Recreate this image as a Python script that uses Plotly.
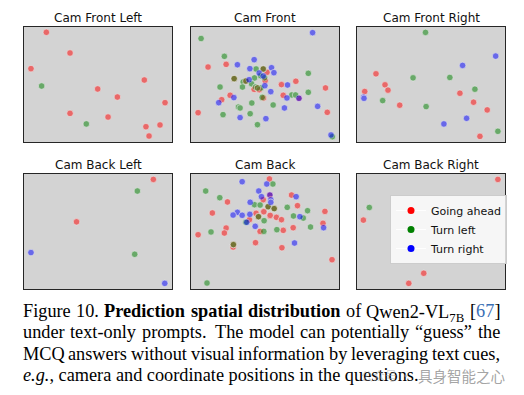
import plotly.graph_objects as go

# the page body adds an 8px margin; the figure is drawn smaller and shifted to compensate
PAGE_W, PAGE_H, OFF = 524, 395, 8
FW, FH = PAGE_W - 2 * OFF, PAGE_H - 2 * OFF


def px2x(p):
    return (p - OFF) / FW


def px2y(p):
    return 1 - (p - OFF) / FH


panel_titles = ["Cam Front Left", "Cam Front", "Cam Front Right",
                "Cam Back Left", "Cam Back", "Cam Back Right"]
series_names = ["Going ahead", "Turn left", "Turn right"]
series_colors = ["red", "green", "blue"]

# ---- data: (x, y) positions in normalised camera coordinates ----
front_left_ahead = [(0.151, 0.954), (0.311, 0.774), (0.047, 0.638), (0.813, 0.539),
                    (0.498, 0.461), (0.631, 0.391), (0.953, 0.342), (0.311, 0.249),
                    (0.568, 0.217), (0.824, 0.133), (0.919, 0.148), (0.845, 0.052)]
front_left_left = [(0.119, 0.487), (0.421, 0.157)]
front_left_right = []

front_ahead = [(0.117, 0.652), (0.239, 0.675), (0.050, 0.255), (0.209, 0.368), (0.266, 0.406),
               (0.428, 0.458), (0.514, 0.606), (0.502, 0.533), (0.491, 0.383), (0.612, 0.499),
               (0.709, 0.528), (0.624, 0.406), (0.909, 0.470), (0.921, 0.258), (0.293, 0.551),
               (0.372, 0.530), (0.489, 0.635), (0.450, 0.470), (0.730, 0.380), (0.462, 0.455)]
front_left = [(0.070, 0.900), (0.227, 0.745), (0.198, 0.478), (0.218, 0.238), (0.322, 0.304),
              (0.333, 0.296), (0.412, 0.339), (0.401, 0.246), (0.450, 0.151), (0.354, 0.522),
              (0.349, 0.478), (0.430, 0.557), (0.410, 0.507), (0.441, 0.635), (0.471, 0.577),
              (0.498, 0.559), (0.437, 0.478), (0.473, 0.470), (0.484, 0.391), (0.793, 0.597),
              (0.793, 0.432), (0.682, 0.409), (0.707, 0.409), (0.556, 0.322), (0.955, 0.046),
              (0.293, 0.551), (0.372, 0.530), (0.489, 0.635), (0.482, 0.388), (0.450, 0.470)]
front_right = [(0.822, 0.951), (0.315, 0.672), (0.428, 0.716), (0.399, 0.638), (0.394, 0.542),
               (0.462, 0.600), (0.489, 0.574), (0.500, 0.490), (0.545, 0.646), (0.561, 0.603),
               (0.653, 0.496), (0.540, 0.438), (0.649, 0.383), (0.730, 0.380), (0.856, 0.310),
               (0.632, 0.296), (0.507, 0.203), (0.333, 0.212), (0.291, 0.386), (0.189, 0.342),
               (0.946, 0.061)]

front_right_ahead = [(0.128, 0.593), (0.189, 0.497), (0.209, 0.451), (0.052, 0.439),
                     (0.288, 0.320), (0.694, 0.424), (0.786, 0.346), (0.878, 0.279),
                     (0.829, 0.049)]
front_right_left = [(0.462, 0.953), (0.378, 0.558), (0.626, 0.561), (0.795, 0.459),
                    (0.173, 0.360), (0.466, 0.308), (0.950, 0.093)]
front_right_right = [(0.935, 0.747), (0.712, 0.666), (0.045, 0.390), (0.047, 0.380),
                     (0.739, 0.206), (0.586, 0.157)]

back_left_ahead = [(0.874, 0.953), (0.355, 0.584)]
back_left_left = [(0.766, 0.852), (0.748, 0.302)]
back_left_right = [(0.047, 0.317), (0.951, 0.049)]

back_ahead = [(0.248, 0.757), (0.489, 0.777), (0.146, 0.661), (0.441, 0.658), (0.491, 0.675),
              (0.493, 0.672), (0.396, 0.603), (0.239, 0.530), (0.227, 0.487), (0.050, 0.472),
              (0.468, 0.501), (0.286, 0.365), (0.437, 0.403), (0.531, 0.957), (0.680, 0.817),
              (0.720, 0.725), (0.905, 0.675), (0.534, 0.635), (0.536, 0.640), (0.578, 0.623),
              (0.612, 0.603), (0.892, 0.571), (0.691, 0.533), (0.624, 0.510), (0.615, 0.359),
              (0.953, 0.255), (0.457, 0.629), (0.288, 0.386), (0.522, 0.716), (0.563, 0.699),
              (0.534, 0.817)]
back_left = [(0.101, 0.852), (0.196, 0.794), (0.430, 0.733), (0.468, 0.730), (0.372, 0.580),
             (0.495, 0.594), (0.137, 0.496), (0.493, 0.501), (0.110, 0.052), (0.554, 0.913),
             (0.651, 0.710), (0.788, 0.681), (0.693, 0.635), (0.759, 0.617), (0.808, 0.539),
             (0.581, 0.516), (0.457, 0.629), (0.288, 0.386), (0.522, 0.716), (0.563, 0.699)]
back_right = [(0.347, 0.933), (0.459, 0.852), (0.477, 0.803), (0.401, 0.754), (0.315, 0.667),
              (0.286, 0.643), (0.347, 0.641), (0.399, 0.649), (0.378, 0.580), (0.435, 0.545),
              (0.513, 0.913), (0.534, 0.817), (0.540, 0.777), (0.540, 0.754), (0.711, 0.803),
              (0.736, 0.629), (0.896, 0.533), (0.700, 0.400)]

back_right_ahead = [(0.950, 0.953), (0.043, 0.599), (0.450, 0.137), (0.349, 0.049)]
back_right_left = [(0.083, 0.709)]
back_right_right = []

panel_data = [
    (front_left_ahead, front_left_left, front_left_right),
    (front_ahead, front_left, front_right),
    (front_right_ahead, front_right_left, front_right_right),
    (back_left_ahead, back_left_left, back_left_right),
    (back_ahead, back_left, back_right),
    (back_right_ahead, back_right_left, back_right_right),
]

# caption words: (text, style)
caption_line1 = [("Figure", "r"), ("10.", "r"), ("Prediction", "b"), ("spatial", "b"),
                 ("distribution", "b"), ("of", "r"), ("Qwen2-VL|7B", "sub"), ("[67]", "ref")]
caption_line2 = [("under", "r"), ("text-only", "r"), ("prompts.", "r"), ("The", "r"),
                 ("model", "r"), ("can", "r"), ("potentially", "r"), ("“guess”", "r"), ("the", "r")]
caption_line3 = [("MCQ", "r"), ("answers", "r"), ("without", "r"), ("visual", "r"),
                 ("information", "r"), ("by", "r"), ("leveraging", "r"), ("text", "r"), ("cues,", "r")]
caption_line4 = "<i>e.g.</i>, camera and coordinate positions in the questions."
watermark_a = "公众号 ·"
watermark_b = "具身智能之心"

# Times / Liberation Serif advance widths (per 1000 em)
ROMAN = dict(zip("abcdefghijklmnopqrstuvwxyz",
                 [444, 500, 444, 500, 444, 333, 500, 500, 278, 278, 500, 278, 778,
                  500, 500, 500, 500, 333, 389, 278, 500, 500, 722, 500, 500, 444]))
ROMAN.update(dict(zip("ABCDEFGHIJKLMNOPQRSTUVWXYZ",
                      [722, 667, 667, 722, 611, 556, 722, 722, 333, 389, 722, 611, 889,
                       722, 722, 556, 722, 667, 556, 611, 722, 722, 944, 722, 722, 611])))
ROMAN.update({c: 500 for c in "0123456789"})
ROMAN.update({".": 250, ",": 250, "-": 333, "[": 333, "]": 333, "“": 444, "”": 444, " ": 250})
BOLD = {"P": 611, "r": 444, "e": 444, "d": 556, "i": 278, "c": 444, "t": 333, "o": 500,
        "n": 556, "s": 389, "p": 556, "a": 500, "l": 278, "b": 556, "u": 556}

FS = 18.3
LEFT_PX, RIGHT_PX = 23, 500


def word_width(text, style):
    if style == "b":
        return sum(BOLD.get(c, ROMAN[c]) for c in text) / 1000 * FS
    if style == "sub":
        a, b = text.split("|")
        return (sum(ROMAN[c] for c in a) + 0.7 * sum(ROMAN[c] for c in b)) / 1000 * FS
    return sum(ROMAN[c] for c in text) / 1000 * FS


def word_rich(text, style):
    if style == "b":
        return "<b>" + text + "</b>"
    if style == "sub":
        a, b = text.split("|")
        return a + "<sub>" + b + "</sub>"
    if style == "ref":
        return "[<span style='color:#3a6fb5'>" + text[1:-1] + "</span>]"
    return text


fig = go.Figure()
layout = dict(width=FW, height=FH, margin=dict(l=0, r=0, t=0, b=0),
              paper_bgcolor="white", plot_bgcolor="#d3d3d3", showlegend=True)
annotations = []

# ---- panels ----
col_px = [(24, 172), (190.7, 339), (357, 505.3)]
row_px = [(27, 142), (174, 289)]
for i, (title, data) in enumerate(zip(panel_titles, panel_data)):
    r, c = divmod(i, 3)
    x0, x1 = col_px[c]
    y0, y1 = row_px[r]
    suffix = "" if i == 0 else str(i + 1)
    axstyle = dict(range=[0, 1], showline=True, linecolor="#262626", linewidth=1.2,
                   mirror=True, showticklabels=False, ticks="", showgrid=False,
                   zeroline=False, fixedrange=True)
    layout["xaxis" + suffix] = dict(domain=[px2x(x0), px2x(x1)], anchor="y" + suffix, **axstyle)
    layout["yaxis" + suffix] = dict(domain=[px2y(y1), px2y(y0)], anchor="x" + suffix, **axstyle)
    for pts, name, col in zip(data, series_names, series_colors):
        if not pts:
            continue
        fig.add_trace(go.Scatter(
            x=[p[0] for p in pts], y=[p[1] for p in pts], mode="markers",
            xaxis="x" + suffix, yaxis="y" + suffix, showlegend=False, name=name,
            opacity=0.5, marker=dict(color=col, size=6.5, line=dict(color="white", width=0.6))))
    annotations.append(dict(text=title, x=px2x((x0 + x1) / 2), y=px2y(y0 - 9),
                            xref="paper", yref="paper", showarrow=False,
                            xanchor="center", yanchor="middle",
                            font=dict(family="DejaVu Sans", size=12, color="#111")))

# legend entries (full-opacity handles) on the last panel
for name, col in zip(series_names, series_colors):
    fig.add_trace(go.Scatter(x=[None], y=[None], mode="lines+markers", name=name,
                             xaxis="x6", yaxis="y6",
                             line=dict(color="rgba(255,255,255,0.9)", width=1),
                             marker=dict(color=col, size=7)))

layout["legend"] = dict(x=px2x(390), y=px2y(195), xanchor="left", yanchor="top",
                        bgcolor="rgba(255,255,255,0.8)", bordercolor="#cccccc", borderwidth=1,
                        font=dict(family="DejaVu Sans", size=11, color="#111"),
                        itemwidth=30, tracegroupgap=0)

# ---- caption (justified word by word) ----
line_y = [310.5, 332, 353.5, 374.5]
for words, yy in zip([caption_line1, caption_line2, caption_line3], line_y[:3]):
    widths = [word_width(t, s) for t, s in words]
    weights = [1.6 if words[k][0] == "prompts." else 1.0 for k in range(len(words) - 1)]
    unit = (RIGHT_PX - LEFT_PX - sum(widths)) / sum(weights)
    xpos = LEFT_PX
    for k, ((t, s), w) in enumerate(zip(words, widths)):
        last = k == len(words) - 1
        ydrop = 2.5 if s == "sub" else 0
        annotations.append(dict(text=word_rich(t, s), x=px2x(RIGHT_PX if last else xpos),
                                y=px2y(yy + ydrop), xref="paper", yref="paper", showarrow=False,
                                xanchor="right" if last else "left", yanchor="middle",
                                borderpad=0, borderwidth=0,
                                font=dict(family="Liberation Serif", size=FS, color="black")))
        if not last:
            xpos += w + unit * weights[k]

annotations.append(dict(text=caption_line4, x=px2x(LEFT_PX), y=px2y(line_y[3]),
                        xref="paper", yref="paper", showarrow=False, xanchor="left",
                        yanchor="middle", borderpad=0, borderwidth=0,
                        font=dict(family="Liberation Serif", size=FS, color="black")))

# watermark
annotations.append(dict(text=watermark_a, x=px2x(414), y=px2y(375), xref="paper", yref="paper",
                        showarrow=False, xanchor="right", yanchor="middle",
                        font=dict(family="Noto Sans CJK SC", size=12, color="rgba(170,170,170,0.55)")))
annotations.append(dict(text=watermark_b, x=px2x(507), y=px2y(375), xref="paper", yref="paper",
                        showarrow=False, xanchor="right", yanchor="middle",
                        font=dict(family="Noto Sans CJK SC", size=14.5, color="rgba(140,140,140,0.8)")))

layout["annotations"] = annotations
fig.update_layout(**layout)
fig.write_html("out.html")
